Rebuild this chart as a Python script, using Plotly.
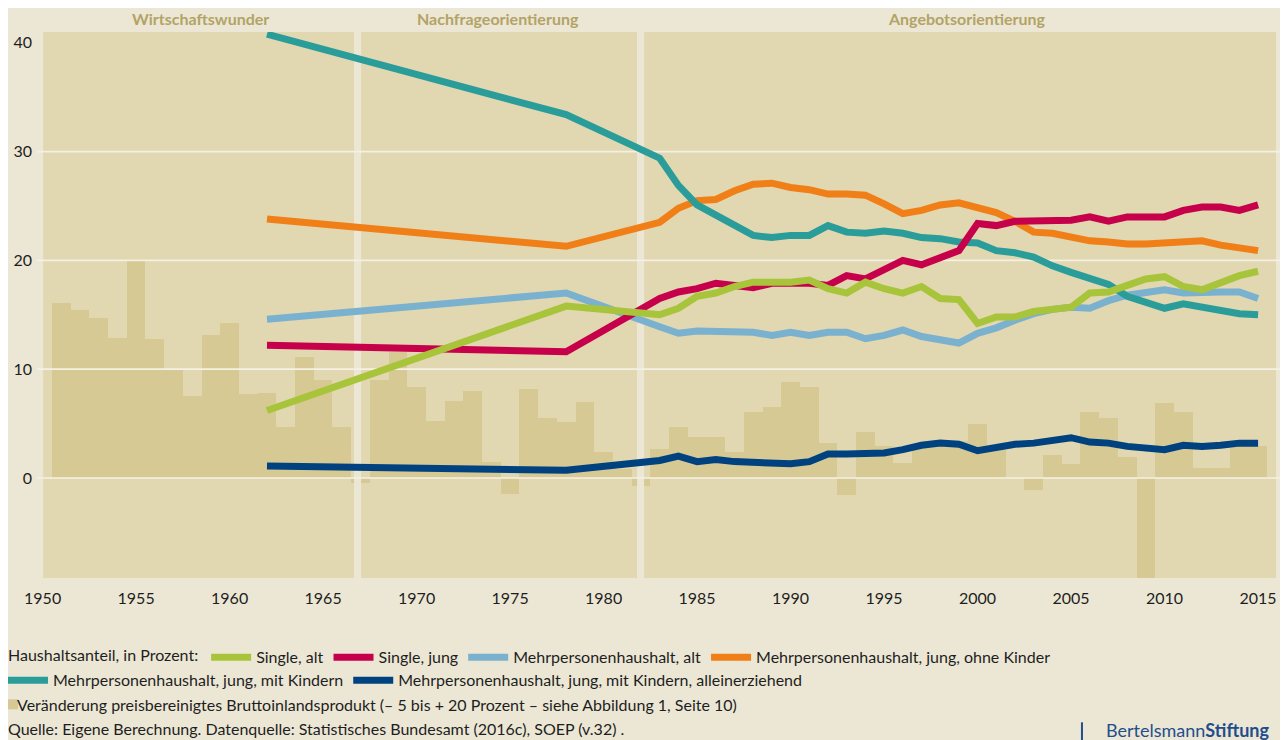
import plotly.graph_objects as go

# ---------------- data ----------------
line_years = [1962, 1978] + list(range(1983, 2016))

single_alt = [6.2, 15.8, 15.0, 15.6, 16.7, 17.0, 17.6, 18.0, 18.0, 18.0, 18.2, 17.4, 17.0, 18.0,
              17.4, 17.0, 17.6, 16.5, 16.4, 14.2, 14.8, 14.8, 15.3, 15.5, 15.7, 17.0, 17.1,
              17.7, 18.3, 18.5, 17.6, 17.3, 17.9, 18.6, 19.0]
single_jung = [12.2, 11.6, 16.5, 17.1, 17.4, 17.9, 17.7, 17.5, 17.9, 17.9, 17.9, 17.7, 18.6, 18.3,
               19.2, 20.0, 19.6, 20.3, 20.9, 23.4, 23.2, 23.6, 23.6, 23.7, 23.7, 24.0, 23.6,
               24.0, 24.0, 24.0, 24.6, 24.9, 24.9, 24.6, 25.1]
mph_alt = [14.6, 17.0, 13.9, 13.3, 13.5, 13.5, 13.4, 13.4, 13.1, 13.4, 13.1, 13.4, 13.4, 12.8,
           13.1, 13.6, 13.0, 12.7, 12.4, 13.3, 13.8, 14.5, 15.1, 15.5, 15.7, 15.6, 16.3,
           16.8, 17.0, 17.3, 17.0, 17.1, 17.1, 17.1, 16.5]
mph_ohne = [23.8, 21.3, 23.5, 24.8, 25.5, 25.6, 26.4, 27.0, 27.1, 26.7, 26.5, 26.1, 26.1, 26.0,
            25.2, 24.3, 24.6, 25.1, 25.3, 24.9, 24.4, 23.6, 22.6, 22.5, 22.2, 21.8, 21.7,
            21.5, 21.5, 21.6, 21.8, 21.8, 21.4, 21.2, 20.9]
mph_mit = [40.8, 33.4, 29.4, 26.9, 25.1, 24.2, 23.2, 22.3, 22.1, 22.3, 22.3, 23.2, 22.6, 22.5,
           22.7, 22.5, 22.1, 22.0, 21.7, 21.6, 20.9, 20.7, 20.3, 19.5, 18.9, 18.3, 17.8,
           16.7, 16.2, 15.6, 16.0, 15.7, 15.5, 15.1, 15.0]
mph_allein = [1.1, 0.7, 1.6, 2.0, 1.5, 1.7, 1.5, 1.4, 1.3, 1.3, 1.5, 2.2, 2.2, 2.2,
              2.3, 2.6, 3.0, 3.2, 3.1, 2.5, 2.8, 3.1, 3.2, 3.4, 3.7, 3.3, 3.2,
              2.9, 2.8, 2.6, 3.0, 2.9, 3.0, 3.2, 3.2]

bip_years = list(range(1951, 2016))
bip_values = [16.1, 15.4, 14.7, 12.9, 20.0, 12.8, 10.0, 7.5, 13.1, 14.2,
              7.7, 7.8, 4.7, 11.1, 9.0, 4.7, -0.5, 9.0, 11.6, 8.4,
              5.2, 7.1, 8.0, 1.5, -1.5, 8.2, 5.5, 5.1, 7.0, 2.4,
              0.8, -0.7, 2.7, 4.7, 3.8, 3.8, 2.4, 6.1, 6.5, 8.8,
              8.4, 3.2, -1.6, 4.2, 2.9, 1.4, 3.0, 3.2, 3.4, 5.0,
              2.7, 0.0, -1.1, 2.1, 1.3, 6.1, 5.5, 1.9, -9.2, 6.9,
              6.1, 0.9, 0.9, 2.9, 2.9]
bip_label = "Veränderung preisbereinigtes Bruttoinlandsprodukt (– 5 bis + 20 Prozent – siehe Abbildung 1, Seite 10)"

periods = ["Wirtschaftswunder", "Nachfrageorientierung", "Angebotsorientierung"]
period_start = [1950.03, 1967.03, 1982.17]
period_end = [1966.66, 1981.79, 2015.96]
period_label_x = [1958.42, 1974.36, 1999.44]

y_ticks = [0, 10, 20, 30, 40]
grid_values = [0, 10, 20, 30]
x_ticks = list(range(1950, 2016, 5))

# ---------------- styles ----------------
PAGE_BG = "#ECE7D5"
BAND = "#E1D7B1"
BAR = "#D6C994"
GRID = "#F4F0E3"
TITLE_COL = "#B3A366"
TEXT = "#1E1E1E"
LOGO = "#1F4E8C"
FONT = "Lato"
X_RANGE = [1949.7, 2016.6]
Y_RANGE = [-9.2, 41.0]

fig = go.Figure()

# GDP bars
fig.add_trace(go.Bar(
    x=bip_years, y=bip_values, width=1.0, marker=dict(color=BAR, line=dict(width=0)),
    name=bip_label, showlegend=False, hoverinfo="skip"))

# gaps between the periods (drawn above the bars)
for i in range(len(periods) - 1):
    gx = (period_end[i] + period_start[i + 1]) / 2
    fig.add_trace(go.Scatter(x=[gx, gx], y=Y_RANGE, mode="lines",
                             line=dict(color=PAGE_BG, width=7), showlegend=False, hoverinfo="skip"))

# grid lines (above the bars, below the series)
gx_list, gy_list = [], []
for g in grid_values:
    gx_list += [X_RANGE[0], X_RANGE[1], None]
    gy_list += [g, g, None]
fig.add_trace(go.Scatter(x=gx_list, y=gy_list, mode="lines",
                         line=dict(color=GRID, width=1.6), showlegend=False, hoverinfo="skip"))

series = [
    ("Mehrpersonenhaushalt, alt", mph_alt, "#7AB1CF", "legend", 3),
    ("Mehrpersonenhaushalt, jung, ohne Kinder", mph_ohne, "#F07F17", "legend", 4),
    ("Mehrpersonenhaushalt, jung, mit Kindern", mph_mit, "#2A9D9A", "legend2", 5),
    ("Single, jung", single_jung, "#C6004B", "legend", 2),
    ("Single, alt", single_alt, "#A8C43A", "legend", 1),
    ("Mehrpersonenhaushalt, jung, mit Kindern, alleinerziehend", mph_allein, "#00427F", "legend2", 6),
]
for name, vals, col, lg, rank in series:
    fig.add_trace(go.Scatter(x=line_years, y=vals, mode="lines", name=name,
                             line=dict(color=col, width=7), legend=lg, legendrank=rank,
                             hoverinfo="skip"))

# period bands
for s, e in zip(period_start, period_end):
    fig.add_shape(type="rect", xref="x", yref="y", x0=s, x1=e, y0=Y_RANGE[0], y1=Y_RANGE[1],
                  fillcolor=BAND, line=dict(width=0), layer="below")

# period titles
for name, px in zip(periods, period_label_x):
    fig.add_annotation(x=px, xref="x", y=1.0256, yref="paper", text=f"<b>{name}</b>",
                       showarrow=False, xanchor="center", yanchor="middle",
                       font=dict(family=FONT, size=16, color=TITLE_COL))

# GDP key (third legend row)
fig.add_shape(type="rect", xref="paper", yref="paper", x0=-0.0232, x1=-0.0152, y0=-0.2405, y1=-0.2222,
              fillcolor=BAR, line=dict(width=0))
fig.add_annotation(x=-0.0176, xref="paper", y=-0.2313, yref="paper", xanchor="left", yanchor="middle",
                   text=bip_label, showarrow=False, font=dict(family=FONT, size=16, color=TEXT))

# source + logo
fig.add_annotation(x=-0.0248, xref="paper", y=-0.2753, yref="paper", xanchor="left", yanchor="middle",
                   text="Quelle: Eigene Berechnung. Datenquelle: Statistisches Bundesamt (2016c), SOEP (v.32) .",
                   showarrow=False, font=dict(family=FONT, size=16, color=TEXT))
fig.add_annotation(x=0.9864, xref="paper", y=-0.2780, yref="paper", xanchor="right", yanchor="middle",
                   text="Bertelsmann<b>Stiftung</b>", showarrow=False,
                   font=dict(family=FONT, size=18, color=LOGO))
fig.add_shape(type="line", xref="paper", yref="paper", x0=0.8353, x1=0.8353, y0=-0.2643, y1=-0.2973,
              line=dict(color=LOGO, width=2))

legend_common = dict(orientation="h", xanchor="left", yanchor="middle", bgcolor="rgba(0,0,0,0)",
                     itemwidth=40,
                     font=dict(family=FONT, size=16, color=TEXT), itemclick=False, itemdoubleclick=False)

# the page adds an 8 px body margin, so the figure is 8 px smaller than the window
fig.update_layout(
    width=1280, height=732,
    margin=dict(l=29, r=0, t=24, b=162, autoexpand=False),
    paper_bgcolor=PAGE_BG, plot_bgcolor=PAGE_BG,
    font=dict(family=FONT, size=16, color=TEXT),
    bargap=0,
    legend=dict(x=-0.0248, y=-0.1452, title=dict(text="Haushaltsanteil, in Prozent:", side="left",
                font=dict(family=FONT, size=16, color=TEXT)), **legend_common),
    legend2=dict(x=-0.0272, y=-0.1874, **legend_common),
    xaxis=dict(range=X_RANGE, showgrid=False, zeroline=False, showline=False,
               tickvals=x_ticks, ticks="", ticklabelstandoff=9, automargin=False,
               tickfont=dict(family=FONT, size=16, color=TEXT)),
    yaxis=dict(range=Y_RANGE, showgrid=False, zeroline=False, showline=False,
               tickvals=y_ticks, ticks="", ticklabelstandoff=4, automargin=False,
               tickfont=dict(family=FONT, size=16, color=TEXT)),
)

fig.write_html("out.html")
